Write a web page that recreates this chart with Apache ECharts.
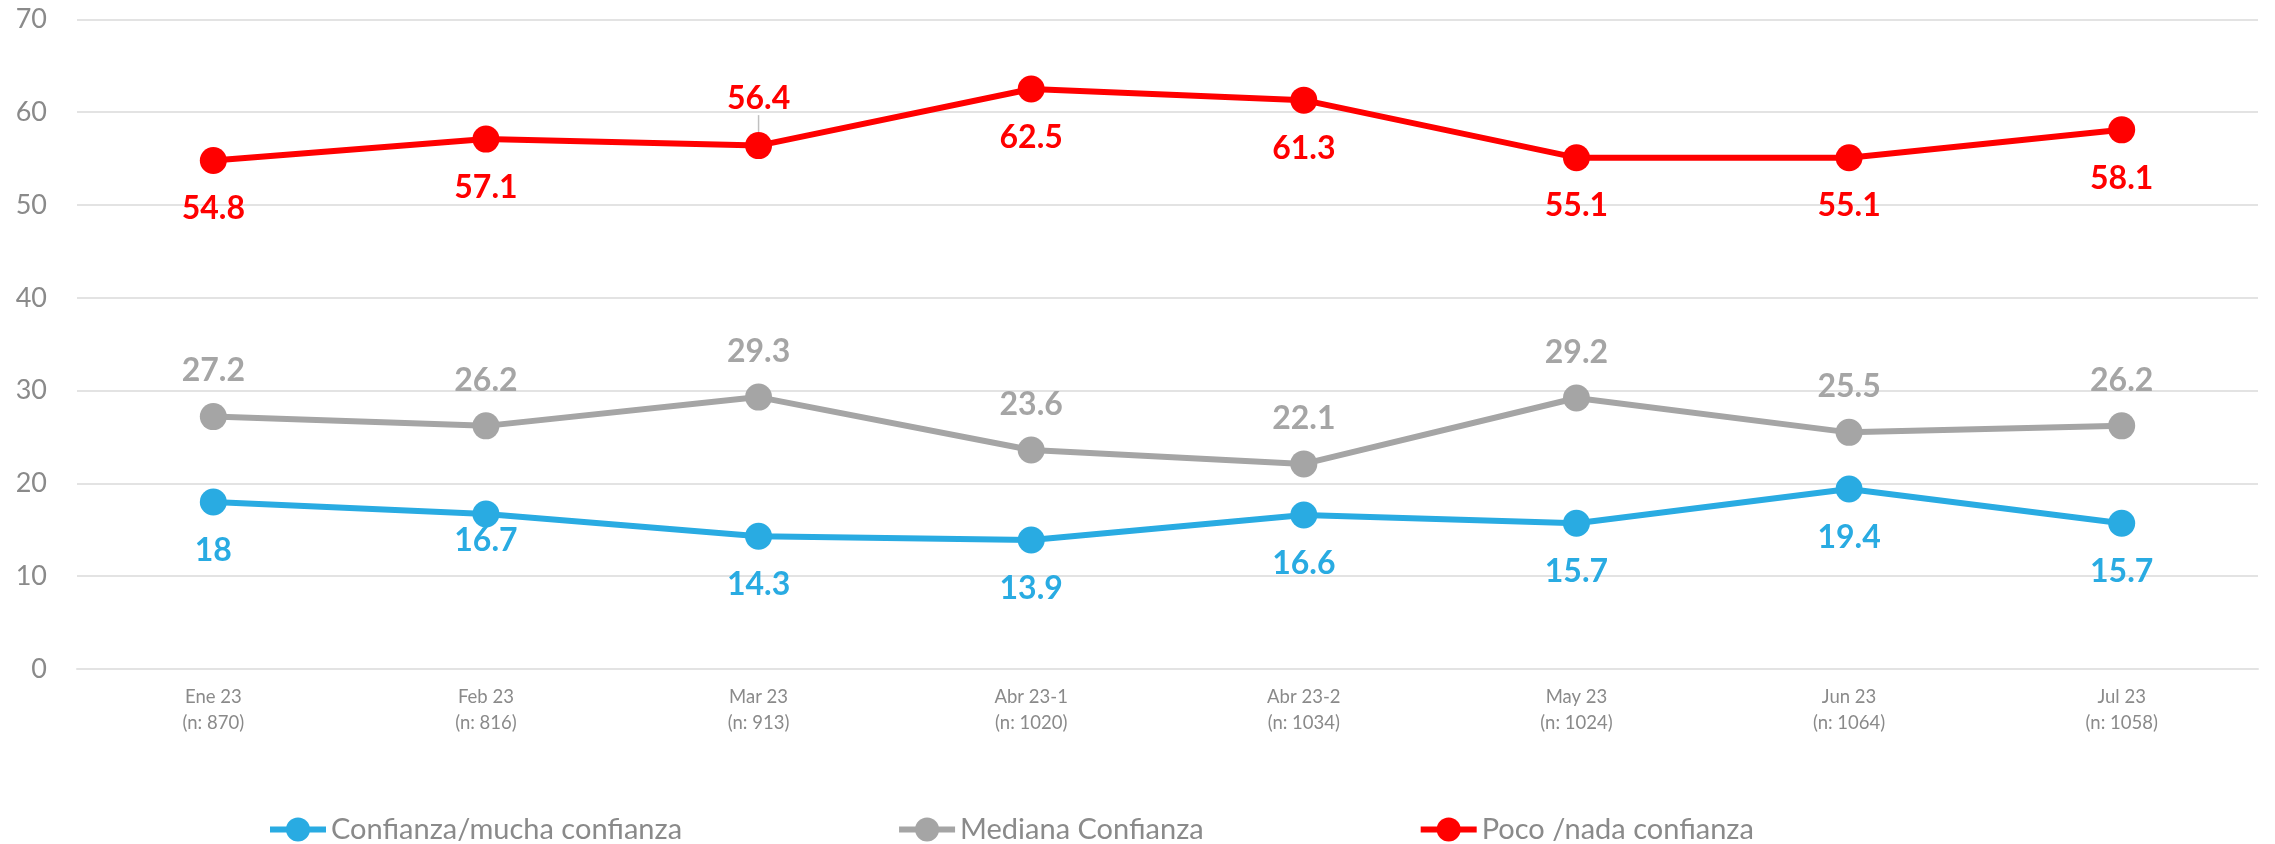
<!DOCTYPE html>
<html>
<head>
<meta charset="utf-8">
<script src="https://cdn.jsdelivr.net/npm/echarts@6/dist/echarts.min.js"></script>
<style>
  html, body { margin: 0; padding: 0; background: #ffffff; }
  #chart { width: 2275px; height: 844px; }
</style>
</head>
<body>
<div id="chart"></div>
<script>
// Survey waves (month and sample size)
const categories = [
  'Ene 23\n(n: 870)', 'Feb 23\n(n: 816)', 'Mar 23\n(n: 913)', 'Abr 23-1\n(n: 1020)',
  'Abr 23-2\n(n: 1034)', 'May 23\n(n: 1024)', 'Jun 23\n(n: 1064)', 'Jul 23\n(n: 1058)'
];
const seriesNames = ['Confianza/mucha confianza', 'Mediana Confianza', 'Poco /nada confianza'];
const confianzaMucha = [18, 16.7, 14.3, 13.9, 16.6, 15.7, 19.4, 15.7];
const medianaConfianza = [27.2, 26.2, 29.3, 23.6, 22.1, 29.2, 25.5, 26.2];
const pocoNada = [54.8, 57.1, 56.4, 62.5, 61.3, 55.1, 55.1, 58.1];
const yTicks = [0, 10, 20, 30, 40, 50, 60, 70];

const colors = ['#29abe2', '#a5a5a5', '#ff0000'];
const gridColor = '#e3e3e3';
const textGray = '#8a8a8a';
const baseFont = 'Lato, "Open Sans", sans-serif';

// Index of the red-line label that is lifted above its marker with a leader line
const liftedRedIndex = 2;

const chart = echarts.init(document.getElementById('chart'), null, { renderer: 'canvas' });

function lineSeries(name, data, color, labelPos) {
  return {
    name: name,
    type: 'line',
    data: data,
    symbol: 'circle',
    symbolSize: 27,
    lineStyle: { color: color, width: 6 },
    itemStyle: { color: color },
    label: {
      show: true,
      position: labelPos,
      distance: labelPos === 'top' ? 16 : 19,
      color: color,
      fontFamily: baseFont,
      fontWeight: 'bold',
      fontSize: 32,
      lineHeight: 32
    },
    emphasis: { disabled: true },
    animation: false,
    z: 3
  };
}

// The lifted label gets a thin grey guide line back to its point
const redData = pocoNada.map(function (v, i) {
  return i === liftedRedIndex
    ? { value: v, labelLine: { show: true, lineStyle: { color: '#c0c0c0', width: 1.5 } } }
    : v;
});

chart.setOption({
  backgroundColor: '#ffffff',
  animation: false,
  color: colors,
  grid: { left: 77, right: 17, top: 19.4, bottom: 175, containLabel: false },
  xAxis: {
    type: 'category',
    data: categories,
    boundaryGap: true,
    axisLine: { show: true, lineStyle: { color: gridColor, width: 2 } },
    axisTick: { show: false },
    axisLabel: {
      color: textGray,
      fontFamily: baseFont,
      fontSize: 18.5,
      lineHeight: 26,
      margin: 15
    },
    splitLine: { show: false }
  },
  yAxis: {
    type: 'value',
    min: yTicks[0],
    max: yTicks[yTicks.length - 1],
    interval: yTicks[1] - yTicks[0],
    axisLine: { show: false },
    axisTick: { show: false },
    axisLabel: {
      color: textGray,
      fontFamily: baseFont,
      fontSize: 27,
      margin: 30
    },
    splitLine: { lineStyle: { color: gridColor, width: 2 } }
  },
  legend: {
    data: seriesNames,
    left: 262,
    top: 810,
    itemGap: 214,
    itemWidth: 56,
    itemHeight: 30,
    lineStyle: { width: 6 },
    textStyle: { color: textGray, fontFamily: baseFont, fontSize: 29 }
  },
  series: [
    lineSeries(seriesNames[0], confianzaMucha, colors[0], 'bottom'),
    lineSeries(seriesNames[1], medianaConfianza, colors[1], 'top'),
    lineSeries(seriesNames[2], redData, colors[2], 'bottom')
  ],
  // Two labels sit off their default spot: Feb's "16.7" is tucked closer
  // to its marker, and Mar's "56.4" is lifted above the red line.
  labelLayout: function (params) {
    if (params.seriesIndex === 0 && params.dataIndex === 1) {
      return { dy: -22 };
    }
    if (params.seriesIndex === 2 && params.dataIndex === liftedRedIndex) {
      return { dy: -95 };
    }
    return {};
  }
});
</script>
</body>
</html>
